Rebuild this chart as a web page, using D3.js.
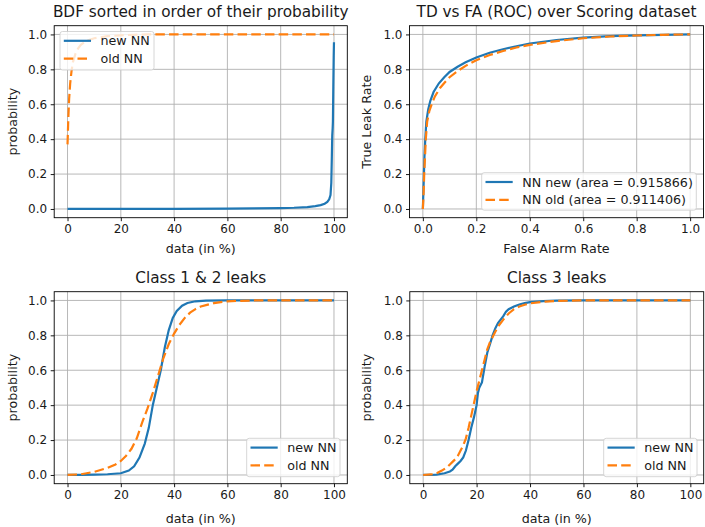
<!DOCTYPE html>
<html><head><meta charset="utf-8">
<script src="https://cdn.jsdelivr.net/npm/d3@7/dist/d3.min.js"></script>
<style>
body{margin:0;background:#fff}
text{font-family:"DejaVu Sans",sans-serif;fill:#1a1a1a}
</style></head><body>
<svg id="c" width="705" height="527"></svg>
<script>
// ---- tick labels ----
const pctTicks = [0, 20, 40, 60, 80, 100];
const rateTicks = [0, 0.2, 0.4, 0.6, 0.8, 1.0];
const probTicks = [0, 0.2, 0.4, 0.6, 0.8, 1.0];

// ---- BDF sorted (top-left) ----
const bdfNewX = [0, 20, 40, 60, 70, 80, 85, 90, 93, 95, 96.5, 97.5, 98.2, 98.7, 99.0, 99.2, 99.35, 99.5, 99.6, 99.75, 99.9, 100];
const bdfNewY = [0, 0, 0.001, 0.002, 0.003, 0.005, 0.007, 0.011, 0.016, 0.022, 0.03, 0.04, 0.055, 0.08, 0.15, 0.3, 0.42, 0.46, 0.5, 0.7, 0.88, 0.955];
const bdfOldX = [0, 0.3, 0.6, 1, 1.5, 2, 3, 4, 5, 7, 10, 15, 20, 25, 30, 40, 60, 80, 100];
const bdfOldY = [0.37, 0.52, 0.63, 0.72, 0.79, 0.84, 0.89, 0.92, 0.94, 0.962, 0.978, 0.99, 0.995, 0.998, 1.0, 1.0, 1.0, 1.0, 1.0];

// ---- ROC (top-right) ----
const rocNewX = [0, 0.002, 0.004, 0.006, 0.009, 0.013, 0.02, 0.028, 0.04, 0.06, 0.08, 0.1, 0.13, 0.16, 0.2, 0.25, 0.3, 0.35, 0.4, 0.5, 0.6, 0.7, 0.8, 0.9, 1.0];
const rocNewY = [0, 0.1, 0.2, 0.3, 0.4, 0.5, 0.57, 0.62, 0.67, 0.72, 0.755, 0.785, 0.815, 0.84, 0.868, 0.895, 0.915, 0.932, 0.948, 0.968, 0.982, 0.99, 0.995, 0.998, 1.0];
const rocOldX = [0, 0.003, 0.005, 0.008, 0.011, 0.016, 0.024, 0.033, 0.045, 0.065, 0.085, 0.1, 0.13, 0.16, 0.2, 0.25, 0.3, 0.35, 0.4, 0.5, 0.6, 0.7, 0.8, 0.9, 1.0];
const rocOldY = [0, 0.1, 0.2, 0.3, 0.4, 0.5, 0.56, 0.6, 0.645, 0.695, 0.73, 0.755, 0.79, 0.82, 0.852, 0.882, 0.905, 0.925, 0.94, 0.962, 0.978, 0.988, 0.994, 0.998, 1.0];

// ---- Class 1 & 2 leaks (bottom-left) ----
const c12NewX = [0, 5, 10, 15, 20, 23, 25, 27, 29, 30.5, 32, 33.5, 35, 36.5, 38, 39.5, 41, 43, 45, 48, 52, 60, 80, 100];
const c12NewY = [0, 0, 0.002, 0.004, 0.01, 0.025, 0.05, 0.1, 0.18, 0.27, 0.4, 0.5, 0.6, 0.73, 0.83, 0.9, 0.94, 0.97, 0.985, 0.995, 0.999, 1, 1, 1];
const c12OldX = [0, 5, 10, 15, 18, 20, 22, 24, 26, 28, 30, 32, 34, 36, 38, 40, 42, 44, 46, 48, 50, 55, 60, 65, 70, 100];
const c12OldY = [0, 0.004, 0.018, 0.04, 0.06, 0.08, 0.11, 0.15, 0.21, 0.3, 0.38, 0.47, 0.57, 0.67, 0.75, 0.81, 0.86, 0.9, 0.93, 0.95, 0.965, 0.985, 0.995, 0.998, 1, 1];

// ---- Class 3 leaks (bottom-right) ----
const c3NewX = [0, 3, 5, 8, 10, 11, 12, 13, 14, 15, 16, 17, 18, 19, 20, 20.5, 21, 22, 23, 24, 25, 26, 27, 28, 29, 30, 31, 32, 34, 36, 38, 40, 45, 50, 60, 100];
const c3NewY = [0, 0, 0.002, 0.01, 0.02, 0.03, 0.05, 0.065, 0.08, 0.1, 0.14, 0.2, 0.27, 0.33, 0.4, 0.47, 0.5, 0.53, 0.62, 0.7, 0.75, 0.8, 0.84, 0.87, 0.89, 0.91, 0.935, 0.95, 0.965, 0.977, 0.985, 0.99, 0.996, 0.999, 1, 1];
const c3OldX = [0, 3, 5, 7, 9, 10, 11, 12, 13, 14, 15, 16, 17, 18, 19, 20, 21, 22, 23, 24, 25, 26, 27, 28, 30, 32, 34, 36, 38, 40, 45, 50, 60, 100];
const c3OldY = [0, 0.003, 0.01, 0.025, 0.045, 0.06, 0.075, 0.09, 0.11, 0.14, 0.17, 0.21, 0.27, 0.34, 0.41, 0.48, 0.54, 0.6, 0.66, 0.72, 0.76, 0.79, 0.82, 0.85, 0.89, 0.925, 0.95, 0.965, 0.975, 0.983, 0.993, 0.997, 1, 1];

const BLUE = "#1f77b4", ORANGE = "#ff7f0e";
const DASH = "9.5,4.2";
const zip = (xs, ys) => xs.map((x, i) => [x, ys[i]]);

const panels = [
  { box: [54.2, 25.7, 347.3, 217.7], xDom: [-5, 105], xTicks: pctTicks, xFmt: d3.format("d"),
    title: "BDF sorted in order of their probability", titleY: 17, xlabel: "data (in %)", xlabelY: 252.5,
    ylabel: "probability", ylabelX: 12,
    series: [{ d: zip(bdfNewX, bdfNewY), c: BLUE, dash: null, name: "new NN" },
             { d: zip(bdfOldX, bdfOldY), c: ORANGE, dash: DASH, name: "old NN" }],
    legend: { x: 60, y: 31.5, w: 94, h: 38.5 } },
  { box: [409.5, 25.7, 703.5, 217.7], xDom: [-0.05, 1.05], xTicks: rateTicks, xFmt: d3.format(".1f"),
    title: "TD vs FA (ROC) over Scoring dataset", titleY: 17, xlabel: "False Alarm Rate", xlabelY: 252.5,
    ylabel: "True Leak Rate", ylabelX: 366,
    series: [{ d: zip(rocNewX, rocNewY), c: BLUE, dash: null, name: "NN new (area = 0.915866)" },
             { d: zip(rocOldX, rocOldY), c: ORANGE, dash: DASH, name: "NN old (area = 0.911406)" }],
    legend: { x: 481.7, y: 172.7, w: 214.6, h: 37.5 } },
  { box: [54.2, 291.7, 347.3, 483.7], xDom: [-5, 105], xTicks: pctTicks, xFmt: d3.format("d"),
    title: "Class 1 & 2 leaks", titleY: 282.5, xlabel: "data (in %)", xlabelY: 522.5,
    ylabel: "probability", ylabelX: 12,
    series: [{ d: zip(c12NewX, c12NewY), c: BLUE, dash: null, name: "new NN" },
             { d: zip(c12OldX, c12OldY), c: ORANGE, dash: DASH, name: "old NN" }],
    legend: { x: 246.7, y: 438.3, w: 93.3, h: 38.4 } },
  { box: [409.8, 291.7, 703.7, 483.7], xDom: [-5, 105], xTicks: pctTicks, xFmt: d3.format("d"),
    title: "Class 3 leaks", titleY: 282.5, xlabel: "data (in %)", xlabelY: 522.5,
    ylabel: "probability", ylabelX: 366,
    series: [{ d: zip(c3NewX, c3NewY), c: BLUE, dash: null, name: "new NN" },
             { d: zip(c3OldX, c3OldY), c: ORANGE, dash: DASH, name: "old NN" }],
    legend: { x: 603.7, y: 438.3, w: 93.3, h: 38.4 } }
];

const svg = d3.select("#c");
svg.append("rect").attr("width", 705).attr("height", 527).attr("fill", "#fff");

panels.forEach(p => {
  const [l, t, r, b] = p.box;
  const x = d3.scaleLinear().domain(p.xDom).range([l, r]);
  const y = d3.scaleLinear().domain([-0.05, 1.05]).range([b, t]);
  const g = svg.append("g");

  // grid
  g.append("g").selectAll("line").data(p.xTicks).join("line")
    .attr("x1", d => x(d)).attr("x2", d => x(d)).attr("y1", t).attr("y2", b)
    .attr("stroke", "#b0b0b0").attr("stroke-width", 0.9);
  g.append("g").selectAll("line").data(probTicks).join("line")
    .attr("y1", d => y(d)).attr("y2", d => y(d)).attr("x1", l).attr("x2", r)
    .attr("stroke", "#b0b0b0").attr("stroke-width", 0.9);

  // lines
  const line = d3.line().x(d => x(d[0])).y(d => y(d[1]));
  p.series.forEach(s => {
    g.append("path").datum(s.d).attr("d", line).attr("fill", "none")
      .attr("stroke", s.c).attr("stroke-width", 2.2)
      .attr("stroke-dasharray", s.dash);
  });

  // axes
  const xa = d3.axisBottom(x).tickValues(p.xTicks).tickFormat(p.xFmt).tickSize(3.5).tickPadding(3.5);
  const ya = d3.axisLeft(y).tickValues(probTicks).tickFormat(d3.format(".1f")).tickSize(3.5).tickPadding(3.5);
  const gx = g.append("g").attr("transform", `translate(0,${b})`).call(xa);
  const gy = g.append("g").attr("transform", `translate(${l},0)`).call(ya);
  [gx, gy].forEach(ax => {
    ax.select(".domain").remove();
    ax.selectAll(".tick line").attr("stroke", "#000").attr("stroke-width", 0.9);
    ax.selectAll(".tick text").attr("font-size", 12).attr("font-family", "DejaVu Sans").attr("fill", "#1a1a1a");
  });

  // frame
  g.append("rect").attr("x", l).attr("y", t).attr("width", r - l).attr("height", b - t)
    .attr("fill", "none").attr("stroke", "#000").attr("stroke-width", 0.9);

  // title & labels
  g.append("text").attr("x", (l + r) / 2).attr("y", p.titleY).attr("text-anchor", "middle")
    .attr("font-size", 15.3).text(p.title);
  g.append("text").attr("x", (l + r) / 2).attr("y", p.xlabelY).attr("text-anchor", "middle")
    .attr("font-size", 12.7).text(p.xlabel);
  g.append("text").attr("transform", `translate(${p.ylabelX},${(t + b) / 2}) rotate(-90)`)
    .attr("text-anchor", "middle").attr("dominant-baseline", "central")
    .attr("font-size", 12.7).text(p.ylabel);

  // legend
  const L = p.legend;
  const lg = g.append("g");
  lg.append("rect").attr("x", L.x).attr("y", L.y).attr("width", L.w).attr("height", L.h)
    .attr("rx", 2.5).attr("fill", "#fff").attr("fill-opacity", 0.8)
    .attr("stroke", "#cccccc").attr("stroke-width", 0.8);
  p.series.forEach((s, i) => {
    const yy = L.y + 9.3 + i * 17.8;
    lg.append("line").attr("x1", L.x + 3.8).attr("x2", L.x + 31)
      .attr("y1", yy).attr("y2", yy).attr("stroke", s.c).attr("stroke-width", 2.2)
      .attr("stroke-dasharray", s.dash);
    lg.append("text").attr("x", L.x + 40.5).attr("y", yy).attr("dominant-baseline", "central")
      .attr("font-size", 12.7).text(s.name);
  });
});
</script>
</body></html>
